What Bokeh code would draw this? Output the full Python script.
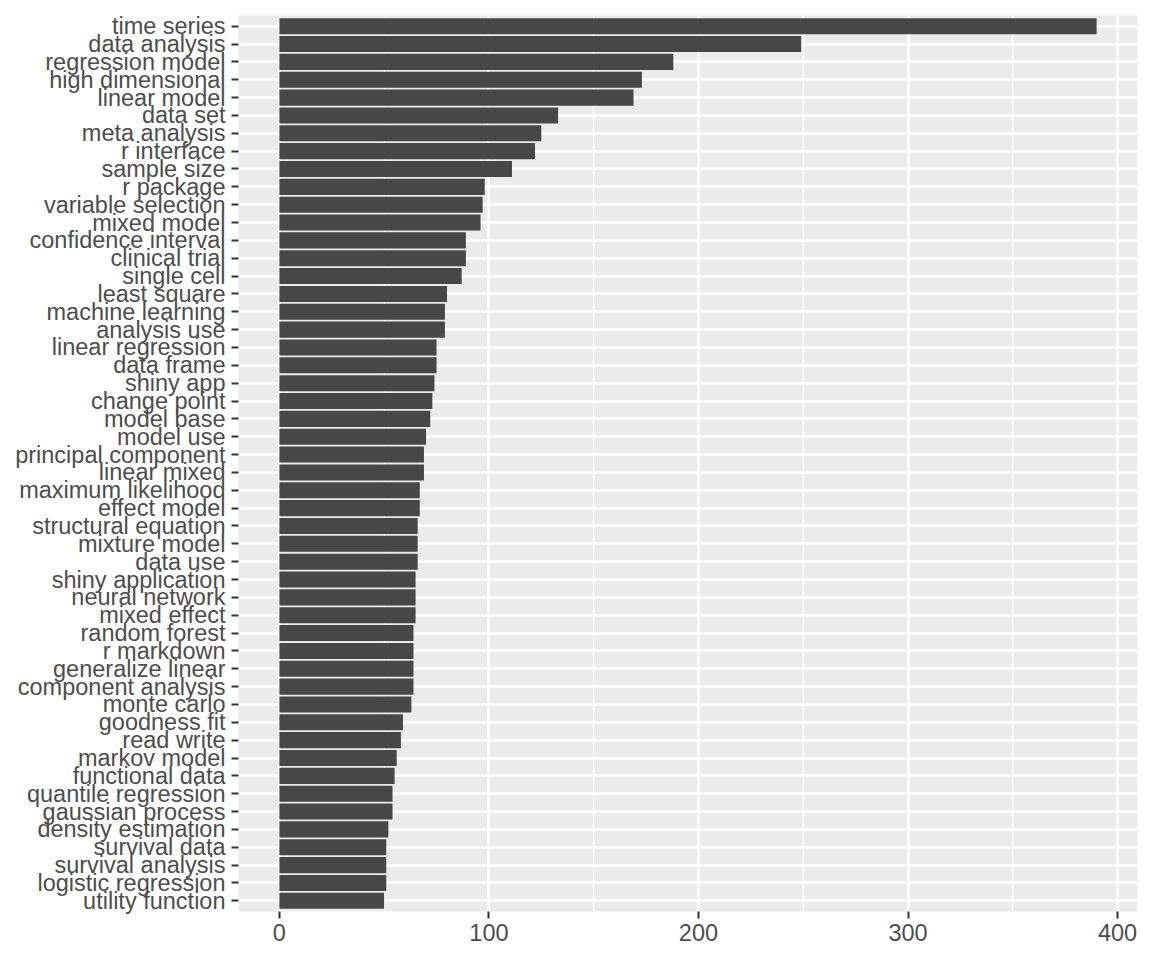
from bokeh.plotting import figure
from bokeh.models import ColumnDataSource, FactorRange, Range1d, FixedTicker
from bokeh.embed import file_html
from bokeh.resources import INLINE

terms = ["time series", "data analysis", "regression model", "high dimensional",
         "linear model", "data set", "meta analysis", "r interface", "sample size",
         "r package", "variable selection", "mixed model", "confidence interval",
         "clinical trial", "single cell", "least square", "machine learning",
         "analysis use", "linear regression", "data frame", "shiny app",
         "change point", "model base", "model use", "principal component",
         "linear mixed", "maximum likelihood", "effect model", "structural equation",
         "mixture model", "data use", "shiny application", "neural network",
         "mixed effect", "random forest", "r markdown", "generalize linear",
         "component analysis", "monte carlo", "goodness fit", "read write",
         "markov model", "functional data", "quantile regression", "gaussian process",
         "density estimation", "survival data", "survival analysis",
         "logistic regression", "utility function"]
counts = [390, 249, 188, 173, 169, 133, 125, 122, 111, 98, 97, 96, 89, 89, 87,
          80, 79, 79, 75, 75, 74, 73, 72, 70, 69, 69, 67, 67, 66, 66, 66, 65, 65,
          65, 64, 64, 64, 64, 63, 59, 58, 56, 55, 54, 54, 52, 51, 51, 51, 50]
x_ticks = [0, 100, 200, 300, 400]
x_minor = [50, 150, 250, 350]

source = ColumnDataSource(data=dict(term=terms, n=counts))

p = figure(width=1144, height=952, output_backend="svg", toolbar_location=None,
           y_range=FactorRange(factors=list(reversed(terms)), range_padding=0.1,
                               range_padding_units="absolute"),
           x_range=Range1d(-0.05 * max(counts), 1.05 * max(counts)),
           min_border_left=238, min_border_right=7, min_border_top=15,
           min_border_bottom=41)

p.background_fill_color = "#EBEBEB"
p.border_fill_color = "white"
p.outline_line_color = None

p.hbar(y="term", right="n", left=0, height=0.9, source=source,
       fill_color="#474747", line_color=None)

p.xaxis.ticker = FixedTicker(ticks=x_ticks, minor_ticks=x_minor)
p.xgrid.grid_line_color = "white"
p.xgrid.grid_line_width = 2.7
p.xgrid.minor_grid_line_color = "white"
p.xgrid.minor_grid_line_width = 1.35
p.ygrid.grid_line_color = "white"
p.ygrid.grid_line_width = 2.7

for ax in (p.xaxis, p.yaxis):
    ax.axis_line_color = None
    ax.major_tick_in = 0
    ax.major_tick_out = 7
    ax.minor_tick_in = 0
    ax.minor_tick_out = 0
    ax.major_tick_line_color = "#333333"
    ax.major_tick_line_width = 2
    ax.major_label_text_color = "#4D4D4D"
    ax.major_label_text_font = "Liberation Sans"
    ax.major_label_text_font_size = "23.5px"

p.xaxis.major_label_standoff = 5
p.yaxis.major_label_standoff = 6

open("out.html", "w").write(file_html(p, INLINE))
